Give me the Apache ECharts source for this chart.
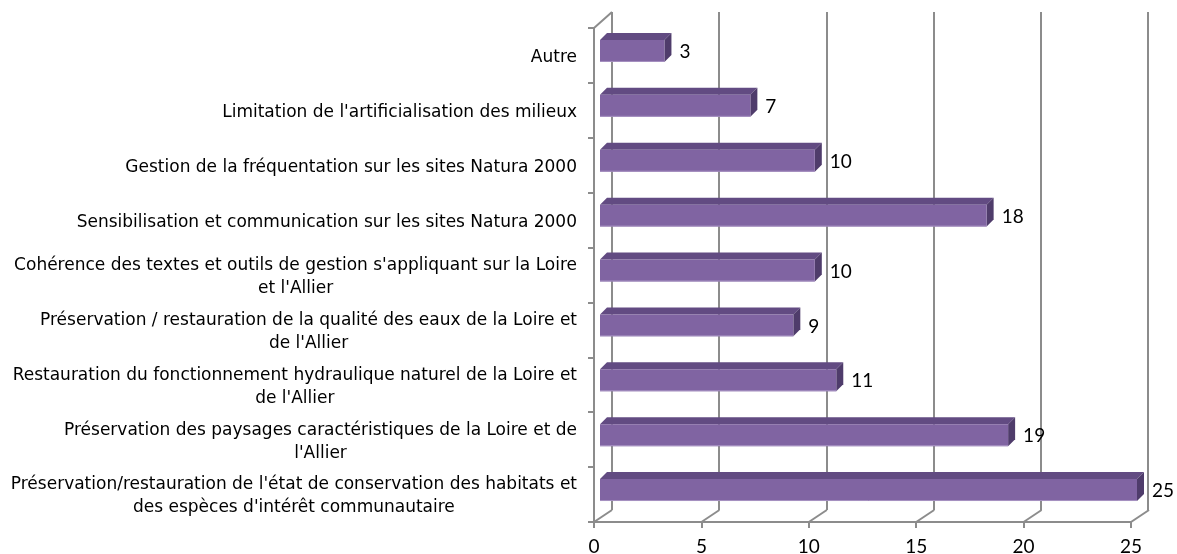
<!DOCTYPE html>
<html>
<head>
<meta charset="utf-8">
<script src="https://cdn.jsdelivr.net/npm/echarts@6/dist/echarts.min.js"></script>
<style>
  html, body { margin: 0; padding: 0; background: #fff; }
  #main { width: 1177px; height: 554px; }
</style>
</head>
<body>
<div id="main"></div>
<script>
// categories, top to bottom
var categories = [
  'Autre',
  "Limitation de l'artificialisation des milieux",
  'Gestion de la fréquentation sur les sites Natura 2000',
  'Sensibilisation et communication sur les sites Natura 2000',
  "Cohérence des textes et outils de gestion s'appliquant sur la Loire\net l'Allier",
  "Préservation / restauration de la qualité des eaux de la Loire et\nde l'Allier",
  "Restauration du fonctionnement hydraulique naturel de la Loire et\nde l'Allier",
  "Préservation des paysages caractéristiques de la Loire et de\nl'Allier",
  "Préservation/restauration de l'état de conservation des habitats et\ndes espèces d'intérêt communautaire"
];
var counts = [3, 7, 10, 18, 10, 9, 11, 19, 25];
var xTicks = [0, 5, 10, 15, 20, 25];

var LABEL_FONT = '"DejaVu Sans", sans-serif';
var NUM_FONT = 'Lato, "DejaVu Sans", sans-serif';
var gridColor = '#8c8c8c';
var front = '#8064a2', topFace = '#624b82', sideFace = '#4f3c6b';
var depth = 7;

var chart = echarts.init(document.getElementById('main'), null, { renderer: 'canvas' });

function renderBar(params, api) {
  var v = api.value(0), i = api.value(1);
  var s = api.coord([0, i]);
  var e = api.coord([v, i]);
  var h = api.size([0, 1])[1] * 0.4;
  var x0 = s[0], x1 = e[0], yc = e[1];
  var y0 = yc - h / 2, y1 = yc + h / 2, d = depth;
  return {
    type: 'group',
    children: [
      { type: 'polygon', shape: { points: [[x0, y0], [x0 + d, y0 - d], [x1 + d, y0 - d], [x1, y0]] }, style: { fill: topFace } },
      { type: 'polygon', shape: { points: [[x1, y0], [x1 + d, y0 - d], [x1 + d, y1 - d], [x1, y1]] }, style: { fill: sideFace } },
      { type: 'rect', shape: { x: x0, y: y0, width: x1 - x0, height: h }, style: { fill: front } },
      { type: 'line', shape: { x1: x0, y1: y1 - 0.5, x2: x1, y2: y1 - 0.5 }, style: { stroke: '#a792c2', lineWidth: 1 } },
      { type: 'text', style: { text: String(v), x: x1 + d + 8, y: yc + 1, align: 'left', verticalAlign: 'middle', fill: '#000', font: '19px ' + NUM_FONT } }
    ]
  };
}

// floor lines from front ticks to the back wall, plus the top-left edge
function renderFloor(params, api) {
  var cs = params.coordSys;
  var x = api.coord([api.value(0), 0])[0];
  var yb = cs.y + cs.height;
  var kids = [
    { type: 'line', shape: { x1: x, y1: yb, x2: x + 18, y2: yb - 12 }, style: { stroke: gridColor, lineWidth: 2 } }
  ];
  if (params.dataIndex === 0) {
    kids.push({ type: 'line', shape: { x1: cs.x, y1: cs.y, x2: cs.x + 18, y2: cs.y - 16 }, style: { stroke: gridColor, lineWidth: 2 } });
  }
  return { type: 'group', children: kids };
}

var option = {
  animation: false,
  grid: [
    { left: 600, right: 40, top: 23.5, bottom: 36.5, outerBoundsMode: 'none' },  // bars
    { left: 594, right: 46, top: 28, bottom: 32, outerBoundsMode: 'none' },      // front axes
    { left: 612, right: 29, top: 12, bottom: 44, outerBoundsMode: 'none' }       // back wall
  ],
  xAxis: [
    { gridIndex: 0, type: 'value', min: 0, max: 25, show: false },
    {
      gridIndex: 1, type: 'value', min: 0, max: 25, interval: 5,
      axisLine: { show: true, lineStyle: { color: gridColor, width: 2 } },
      axisTick: { show: true, length: 6, lineStyle: { color: gridColor, width: 2 } },
      axisLabel: { color: '#000', fontSize: 19, fontFamily: NUM_FONT, margin: 15 },
      splitLine: { show: false }
    },
    {
      gridIndex: 2, type: 'value', min: 0, max: 25, interval: 5,
      axisLine: { show: false }, axisTick: { show: false }, axisLabel: { show: false },
      splitLine: { show: true, showMinLine: true, showMaxLine: true, lineStyle: { color: gridColor, width: 2 } }
    }
  ],
  yAxis: [
    { gridIndex: 0, type: 'category', data: categories, inverse: true, show: false },
    {
      gridIndex: 1, type: 'category', data: categories, inverse: true,
      axisLine: { show: true, lineStyle: { color: gridColor, width: 2 } },
      axisTick: { show: true, length: 6, lineStyle: { color: gridColor, width: 2 } },
      axisLabel: {
        margin: 17, align: 'right', padding: [4, 0, 0, 0],
        formatter: function (v) { return '{c|' + v + '}'; },
        rich: { c: { align: 'center', color: '#000', fontSize: 17, fontFamily: LABEL_FONT, lineHeight: 23 } }
      }
    },
    { gridIndex: 2, type: 'value', show: false }
  ],
  series: [
    {
      type: 'custom', xAxisIndex: 1, yAxisIndex: 1,
      data: xTicks.map(function (v) { return [v, 0]; }),
      renderItem: renderFloor, silent: true, z: 1
    },
    {
      type: 'custom', xAxisIndex: 0, yAxisIndex: 0,
      data: counts.map(function (v, i) { return [v, i]; }),
      encode: { x: 0, y: 1 },
      renderItem: renderBar, z: 5
    }
  ]
};
chart.setOption(option);
</script>
</body>
</html>
